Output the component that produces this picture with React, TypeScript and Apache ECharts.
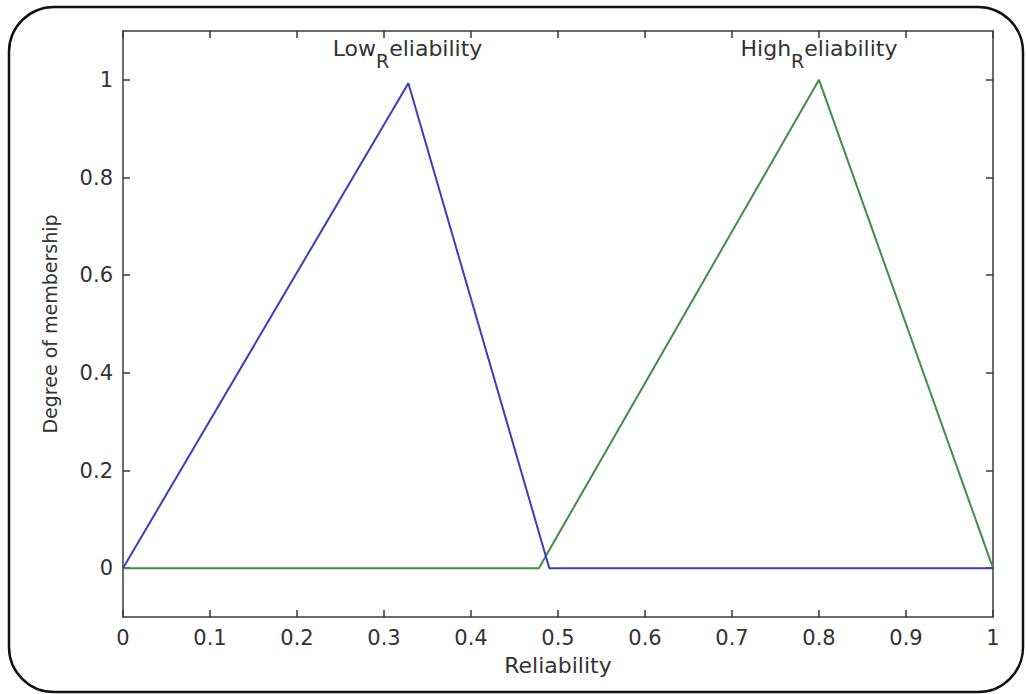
import React, { useEffect, useRef } from "react";
import * as echarts from "echarts";

const lowReliability: [number, number][] = [
  [0, 0],
  [0.328, 0.993],
  [0.49, 0.0],
  [1, 0],
];
const highReliability: [number, number][] = [
  [0, 0],
  [0.478, 0],
  [0.8, 1],
  [1, 0],
];
const yTicks = [0, 0.2, 0.4, 0.6, 0.8, 1];
const annotations: [number, number, string][] = [
  [0.327, 1.052, "Low"],
  [0.8, 1.052, "High"],
];

const FONT = "DejaVu Sans";
const AX = "#3a3a3a";

export default function App() {
  const ref = useRef<HTMLDivElement>(null);
  useEffect(() => {
    if (!ref.current) return;
    const chart = echarts.init(ref.current, null, { renderer: "svg" });
    const axisLine = { show: true, onZero: false, lineStyle: { color: AX, width: 1.5 } };
    chart.setOption({
      animation: false,
      backgroundColor: "#ffffff",
      grid: { left: 123, top: 31, right: 33, bottom: 77, containLabel: false },
      graphic: [
        {
          type: "rect",
          shape: { x: 9, y: 7, width: 1014, height: 685, r: 45 },
          style: { fill: "none", stroke: "#111", lineWidth: 2.5 },
          silent: true,
        },
      ],
      xAxis: [
        {
          type: "value",
          min: 0,
          max: 1,
          interval: 0.1,
          position: "bottom",
          axisLine,
          splitLine: { show: false },
          axisTick: { inside: true, length: 7, lineStyle: { color: AX, width: 1.5 } },
          axisLabel: {
            margin: 10,
            color: "#333",
            fontFamily: FONT,
            fontSize: 21,
            formatter: (v: number) => String(Math.round(v * 10) / 10),
          },
          name: "Reliability",
          nameLocation: "middle",
          nameGap: 37,
          nameTextStyle: { color: "#333", fontFamily: FONT, fontSize: 22 },
        },
        {
          type: "value",
          min: 0,
          max: 1,
          interval: 0.1,
          position: "top",
          axisLine,
          splitLine: { show: false },
          axisTick: { inside: true, length: 7, lineStyle: { color: AX, width: 1.5 } },
          axisLabel: { show: false },
        },
      ],
      yAxis: [
        {
          type: "value",
          min: -0.1,
          max: 1.1,
          position: "left",
          axisLine,
          splitLine: { show: false },
          axisTick: {
            inside: true,
            length: 7,
            customValues: yTicks,
            lineStyle: { color: AX, width: 1.5 },
          },
          axisLabel: {
            margin: 10,
            color: "#333",
            fontFamily: FONT,
            fontSize: 21,
            customValues: yTicks,
            formatter: (v: number) => String(Math.round(v * 10) / 10),
          },
          name: "Degree of membership",
          nameLocation: "middle",
          nameGap: 64,
          nameTextStyle: { color: "#333", fontFamily: FONT, fontSize: 19 },
        },
        {
          type: "value",
          min: -0.1,
          max: 1.1,
          position: "right",
          axisLine,
          splitLine: { show: false },
          axisTick: {
            inside: true,
            length: 7,
            customValues: yTicks,
            lineStyle: { color: AX, width: 1.5 },
          },
          axisLabel: { show: false },
        },
      ],
      series: [
        {
          type: "line",
          data: lowReliability,
          showSymbol: false,
          symbol: "none",
          lineStyle: { color: "#3c3cbf", width: 2 },
          z: 3,
        },
        {
          type: "line",
          data: highReliability,
          showSymbol: false,
          symbol: "none",
          lineStyle: { color: "#3f8f45", width: 2 },
          z: 2,
        },
        {
          type: "custom",
          data: annotations,
          renderItem: (params: any, api: any) => {
            const p = api.coord([api.value(0), api.value(1)]);
            const word = annotations[params.dataIndex][2];
            return {
              type: "text",
              x: p[0],
              y: p[1],
              style: {
                text: `{a|${word}}{s|R}{a|eliability}`,
                align: "center",
                verticalAlign: "middle",
                fill: "#333",
                rich: {
                  a: {
                    fontFamily: FONT,
                    fontSize: 22,
                    lineHeight: 33,
                    verticalAlign: "top",
                    fill: "#333",
                  },
                  s: {
                    fontFamily: FONT,
                    fontSize: 19,
                    lineHeight: 33,
                    verticalAlign: "bottom",
                    fill: "#333",
                  },
                },
              },
            };
          },
          z: 5,
        },
      ],
    });
    return () => chart.dispose();
  }, []);
  return (
    <div
      ref={ref}
      style={{ position: "absolute", left: 0, top: 0, width: 1026, height: 694 }}
    />
  );
}
